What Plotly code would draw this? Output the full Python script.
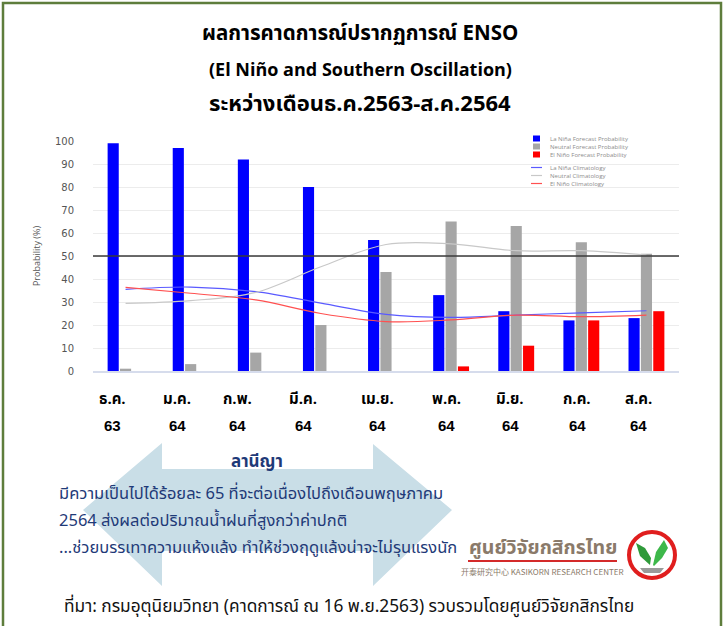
import plotly.graph_objects as go

# ---------------- data ----------------
months = ["ธ.ค. 63", "ม.ค. 64", "ก.พ. 64", "มี.ค. 64", "เม.ย. 64", "พ.ค. 64", "มิ.ย. 64", "ก.ค. 64", "ส.ค. 64"]
month_labels = ["ธ.ค.", "ม.ค.", "ก.พ.", "มี.ค.", "เม.ย.", "พ.ค.", "มิ.ย.", "ก.ค.", "ส.ค."]
year_labels = ["63", "64", "64", "64", "64", "64", "64", "64", "64"]

lanina_forecast = [99, 97, 92, 80, 57, 33, 26, 22, 23]
neutral_forecast = [1, 3, 8, 20, 43, 65, 63, 56, 51]
elnino_forecast = [0, 0, 0, 0, 0, 2, 11, 22, 26]

lanina_clim = [35.5, 36.5, 34.5, 29.5, 24.6, 23.3, 24.3, 25.3, 26.2]
neutral_clim = [29.4, 30.6, 34.2, 45.3, 55.0, 55.3, 52.3, 52.3, 50.4]
elnino_clim = [36.4, 33.8, 30.9, 25.0, 21.5, 22.2, 24.3, 23.6, 24.3]

y_ticks = [0, 10, 20, 30, 40, 50, 60, 70, 80, 90, 100]

# ---------------- geometry helpers (screen pixels -> paper) ----------------
W, H = 724, 626
L, R, T, B = 93, 679, 141, 371   # plot area in screen pixels


def px(x):
    return (x - L) / (R - L)


def py(y):
    return (B - y) / (B - T)


THAI = "Noto Sans Thai, Noto Sans, DejaVu Sans, sans-serif"

fig = go.Figure()

fig.add_trace(go.Bar(x=months, y=lanina_forecast, name="La Niña Forecast Probability",
                     marker=dict(color="#0000ff", line=dict(width=0)), showlegend=False))
fig.add_trace(go.Bar(x=months, y=neutral_forecast, name="Neutral Forecast Probability",
                     marker=dict(color="#a6a6a6", line=dict(width=0)), showlegend=False))
fig.add_trace(go.Bar(x=months, y=elnino_forecast, name="El Niño Forecast Probability",
                     marker=dict(color="#ff0000", line=dict(width=0)), showlegend=False))

fig.add_trace(go.Scatter(x=months, y=lanina_clim, name="La Niña Climatology", mode="lines",
                         line=dict(color="#5a5aff", width=1.2, shape="spline"), showlegend=False))
fig.add_trace(go.Scatter(x=months, y=neutral_clim, name="Neutral Climatology", mode="lines",
                         line=dict(color="#c8c8c8", width=1.2, shape="spline"), showlegend=False))
fig.add_trace(go.Scatter(x=months, y=elnino_clim, name="El Niño Climatology", mode="lines",
                         line=dict(color="#ff5050", width=1.2, shape="spline"), showlegend=False))

shapes = []
annotations = []

# 50% reference line
shapes.append(dict(type="line", xref="paper", yref="y", x0=0, x1=1, y0=50, y1=50,
                   line=dict(color="#3a3a3a", width=1.3), layer="above"))

# outer border
shapes.append(dict(type="rect", xref="paper", yref="paper",
                   x0=px(3), x1=px(721), y0=py(3), y1=py(640),
                   line=dict(color="#5e7d3c", width=2.5), fillcolor="rgba(0,0,0,0)", layer="below"))

# double arrow (background)
pts = [(83, 510), (162, 443), (162, 469), (373, 469), (373, 444), (452, 510),
       (373, 586), (373, 551), (162, 551), (162, 586)]
path = "M " + " L ".join(f"{px(a):.5f},{py(b):.5f}" for a, b in pts) + " Z"
shapes.append(dict(type="path", xref="paper", yref="paper", path=path,
                   fillcolor="#c9dee7", line=dict(width=0), layer="below"))

# manual legend
leg_items = [("La Niña Forecast Probability", "#0000ff", "sq", 138.5),
             ("Neutral Forecast Probability", "#a6a6a6", "sq", 146.5),
             ("El Niño Forecast Probability", "#ff0000", "sq", 154.5),
             ("La Niña Climatology", "#5a5aff", "ln", 167.5),
             ("Neutral Climatology", "#c8c8c8", "ln", 175.5),
             ("El Niño Climatology", "#ff5050", "ln", 183.5)]
for name, col, kind, yy in leg_items:
    if kind == "sq":
        shapes.append(dict(type="rect", xref="paper", yref="paper",
                           x0=px(533), x1=px(540), y0=py(yy + 3), y1=py(yy - 3),
                           fillcolor=col, line=dict(width=0)))
    else:
        shapes.append(dict(type="line", xref="paper", yref="paper",
                           x0=px(531), x1=px(542), y0=py(yy), y1=py(yy),
                           line=dict(color=col, width=1.2)))
    annotations.append(dict(text=name, xref="paper", yref="paper", x=px(548), y=py(yy),
                            xanchor="left", yanchor="middle", showarrow=False,
                            font=dict(size=6, color="#8c8c8c", family="Open Sans, sans-serif")))

# titles
for txt, yy, fs in [("ผลการคาดการณ์ปรากฏการณ์ ENSO", 33, 20.5),
                    ("(El Niño and Southern Oscillation)", 70, 18),
                    ("ระหว่างเดือนธ.ค.2563-ส.ค.2564", 104, 22)]:
    annotations.append(dict(text=f"<b>{txt}</b>", xref="paper", yref="paper", x=px(360), y=py(yy),
                            xanchor="center", yanchor="middle", showarrow=False,
                            font=dict(size=fs, color="#000000", family=THAI)))

# x labels (two lines)
lab_x = [112, 177, 237, 303, 377, 446, 510, 577, 638]
for xx, m, yv in zip(lab_x, month_labels, year_labels):
    annotations.append(dict(text=f"<b>{m}</b>", xref="paper", yref="paper", x=px(xx), y=py(399),
                            xanchor="center", yanchor="middle", showarrow=False,
                            font=dict(size=15, color="#000000", family=THAI)))
    annotations.append(dict(text=f"<b>{yv}</b>", xref="paper", yref="paper", x=px(xx), y=py(425),
                            xanchor="center", yanchor="middle", showarrow=False,
                            font=dict(size=15, color="#000000", family="Liberation Sans, Arial, sans-serif")))

# arrow text
navy = "#1f3a78"
annotations.append(dict(text="<b>ลานีญา</b>", xref="paper", yref="paper", x=px(257), y=py(462),
                        xanchor="center", yanchor="middle", showarrow=False,
                        font=dict(size=17, color=navy, family=THAI)))
for txt, yy in [("มีความเป็นไปได้ร้อยละ 65 ที่จะต่อเนื่องไปถึงเดือนพฤษภาคม", 493),
                ("2564 ส่งผลต่อปริมาณน้ำฝนที่สูงกว่าค่าปกติ", 520),
                ("...ช่วยบรรเทาความแห้งแล้ง ทำให้ช่วงฤดูแล้งน่าจะไม่รุนแรงนัก", 547)]:
    annotations.append(dict(text=txt, xref="paper", yref="paper", x=px(57), y=py(yy),
                            xanchor="left", yanchor="middle", showarrow=False,
                            font=dict(size=16.5, color=navy, family=THAI)))

# source
annotations.append(dict(text="ที่มา: กรมอุตุนิยมวิทยา (คาดการณ์ ณ 16 พ.ย.2563) รวบรวมโดยศูนย์วิจัยกสิกรไทย",
                        xref="paper", yref="paper", x=px(62), y=py(607),
                        xanchor="left", yanchor="middle", showarrow=False,
                        font=dict(size=17.3, color="#111111", family=THAI)))

# logo
annotations.append(dict(text="<b>ศูนย์วิจัยกสิกรไทย</b>", xref="paper", yref="paper", x=px(543), y=py(548),
                        xanchor="center", yanchor="middle", showarrow=False,
                        font=dict(size=19.5, color="#8a7a6a", family=THAI)))
shapes.append(dict(type="line", xref="paper", yref="paper", x0=px(468), x1=px(617),
                   y0=py(561), y1=py(561), line=dict(color="#d42a2a", width=2)))
annotations.append(dict(text="开泰研究中心 KASIKORN RESEARCH CENTER", xref="paper", yref="paper",
                        x=px(542), y=py(571), xanchor="center", yanchor="middle", showarrow=False,
                        font=dict(size=8, color="#8a7a6a", family="Noto Sans CJK SC, sans-serif")))
cx, cy, r = 652, 555, 23
shapes.append(dict(type="circle", xref="paper", yref="paper",
                   x0=px(cx - r), x1=px(cx + r), y0=py(cy + r), y1=py(cy - r),
                   line=dict(color="#e01e1e", width=4), fillcolor="white"))
leaf_l = [(650, 565), (640, 556), (636, 543), (645, 548), (651, 558)]
leaf_r = [(653, 565), (656, 552), (664, 540), (668, 548), (662, 558), (654, 566)]
soil = [(640, 568), (664, 568), (660, 573), (644, 573)]
for poly, col in [(leaf_l, "#2f9a3a"), (leaf_r, "#3db84a"), (soil, "#9a9a9a")]:
    p = "M " + " L ".join(f"{px(a):.5f},{py(b):.5f}" for a, b in poly) + " Z"
    shapes.append(dict(type="path", xref="paper", yref="paper", path=p,
                       fillcolor=col, line=dict(width=0)))

fig.update_layout(
    width=W, height=H,
    margin=dict(l=L, r=W - R, t=T, b=H - B, pad=0),
    paper_bgcolor="white", plot_bgcolor="white",
    barmode="group", bargap=0.43, bargroupgap=0.1,
    shapes=shapes, annotations=annotations,
    showlegend=False,
    xaxis=dict(showticklabels=False, showgrid=False, zeroline=False, showline=True,
               linecolor="#d6dcec", linewidth=1.5, ticks=""),
    yaxis=dict(range=[0, 100], tickvals=y_ticks, showgrid=True, gridcolor="#ececec", gridwidth=1,
               zeroline=False, ticks="", ticklabelstandoff=18,
               tickfont=dict(size=10, color="#555555", family="DejaVu Sans, sans-serif"),
               title=dict(text="Probability (%)", standoff=12,
                          font=dict(size=9, color="#555555", family="Open Sans, sans-serif"))),
)

fig.write_html(
    "out.html",
    config={"displayModeBar": False},
    post_script="document.body.style.margin='0px';document.body.style.padding='0px';"
                "document.documentElement.style.overflow='hidden';",
)
